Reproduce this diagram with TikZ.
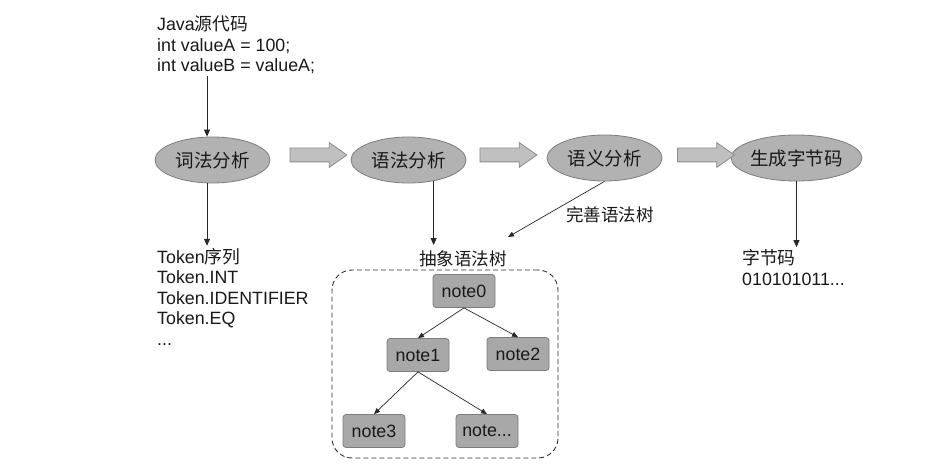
\documentclass[tikz,border=0pt]{standalone}
\usepackage{fontspec}
\setmainfont{Liberation Sans}
\newfontfamily\cjk{Noto Sans CJK SC}
\usetikzlibrary{shapes.geometric,shapes.arrows,arrows.meta}
\definecolor{stagefill}{RGB}{178,178,178}
\definecolor{stageline}{RGB}{125,125,125}
\definecolor{flowfill}{RGB}{192,192,192}
\definecolor{flowline}{RGB}{140,140,140}
\definecolor{tfill}{RGB}{168,168,168}
\definecolor{tline}{RGB}{125,125,125}
\definecolor{linec}{RGB}{40,40,40}
\definecolor{txt}{RGB}{25,25,25}
\definecolor{boxline}{RGB}{50,50,50}
\begin{document}
\begin{tikzpicture}[x=1pt,y=-1pt,
  every node/.style={font=\fontsize{17.8}{20.5}\selectfont, text=txt},
  stage/.style={ellipse, draw=stageline, fill=stagefill, line width=0.8pt,
    minimum width=115pt, minimum height=46pt, inner sep=0pt,
    font=\cjk\fontsize{18.5}{20}\selectfont},
  flow/.style={single arrow, draw=flowline, fill=flowfill, line width=0.8pt,
    minimum height=57pt, minimum width=24pt, single arrow head extend=5.5pt,
    inner xsep=0pt, inner ysep=6.5pt, single arrow tip angle=70,
    text height=0pt, text depth=0pt},
  tnode/.style={rectangle, rounded corners=3pt, draw=tline, fill=tfill,
    line width=0.8pt, minimum width=62pt, minimum height=33pt, inner sep=0pt},
  label/.style={inner sep=2pt, align=left},
  cjklabel/.style={inner sep=2pt, font=\cjk\fontsize{17.5}{20.5}\selectfont},
  arr/.style={draw=linec, line width=0.8pt, -{Triangle[length=7pt,width=6pt]}},
  tarr/.style={draw=linec, line width=0.7pt, -{Triangle[length=6pt,width=5pt]}}
]
\useasboundingbox[fill=white] (0,0) rectangle (948,468);

% stages
\node[stage] (e1) at (212.5,160) {词法分析};
\node[stage] (e2) at (408.5,160) {语法分析};
\node[stage] (e3) at (604.5,158) {语义分析};
\node[stage] (e4) at (796.5,158) {生成字节码};

% flow arrows
\node[flow] (a1) at (313.5,155) {};
\node[flow] (a2) at (503.5,155) {};
\node[flow] (a3) at (701,155) {};

% texts (base anchor = baseline of the last line)
\node[label, anchor=base west] (src) at (155,72)
  {Java{\cjk 源代码}\\int valueA = 100;\\int valueB = valueA;};
\node[label, anchor=base west] (tok) at (155,345)
  {Token{\cjk 序列}\\Token.INT\\Token.IDENTIFIER\\Token.EQ\\...};
\node[label, anchor=base west] (bc) at (740,285)
  {{\cjk 字节码}\\010101011...};
\node[cjklabel, anchor=base, inner sep=5pt] (tl) at (463,265) {抽象语法树};
\node[cjklabel, anchor=base] (fix) at (610,222) {完善语法树};
\coordinate (fixtip) at (508,237);

% tree box
\node[draw=boxline, dashed, dash pattern=on 5pt off 3pt, rounded corners=20pt,
  line width=0.9pt, minimum width=226pt, minimum height=188pt] (box) at (445,364) {};

% tree nodes
\node[tnode] (n0) at (464,291) {note0};
\node[tnode] (n1) at (418,355) {note1};
\node[tnode] (n2) at (518,354) {note2};
\node[tnode] (n3) at (374,431) {note3};
\node[tnode] (n4) at (487,431) {note...};

% connectors
\draw[arr] ([xshift=52pt]src.south west) -- ([xshift=-5.5pt]e1.north);
\draw[arr] ([xshift=-5.5pt]e1.south) -- ([xshift=52pt]tok.north west);
\draw[arr] (e2.320) -- (e2.320 |- tl.north);
\draw[tarr] (e3.south) -- (fixtip);
\draw[arr] (e4.south) -- (e4.south |- bc.north);

\draw[tarr] (n0.south) -- (n1.north);
\draw[tarr] (n0.south) -- (n2.north);
\draw[tarr] (n1.south) -- (n3.north);
\draw[tarr] (n1.south) -- (n4.north);
\end{tikzpicture}
\end{document}
